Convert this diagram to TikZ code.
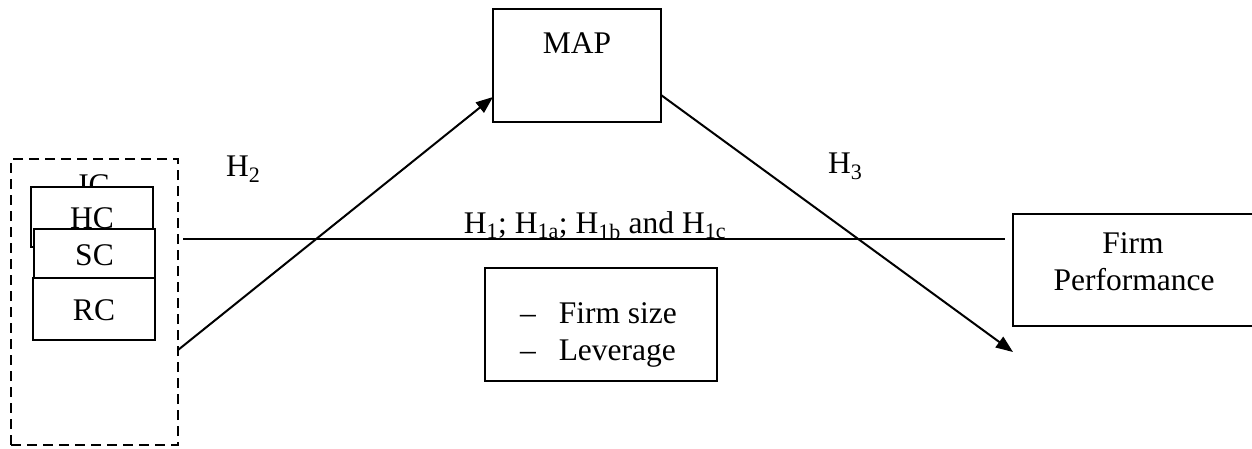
\documentclass[tikz,border=0pt]{standalone}
\usepackage{fontspec}
\setmainfont{Liberation Serif}
\usetikzlibrary{arrows.meta,calc}
\begin{document}
\begin{tikzpicture}[x=1pt,y=-1pt,line width=2pt,
  box/.style={draw,fill=white,inner sep=0pt,outer sep=0pt},
  txt/.style={font=\fontsize{31.5}{37}\selectfont,inner sep=0pt},
  arr/.style={-{Triangle[length=17pt,width=13pt]}},
  grpbox/.style={draw,dash pattern=on 10pt off 6pt,inner sep=0pt,outer sep=0pt}]
\clip (0,0) rectangle (1252,448);
\fill[white] (0,0) rectangle (1252,448);

% intellectual capital group
\node[grpbox,minimum width=167pt,minimum height=286pt] (grp) at (94.5,302) {};
\node[txt,anchor=base] (ic) at (94,195) {IC};
\node[box,minimum width=122pt,minimum height=60pt] (hc) at (92,217) {};
\node[txt,anchor=base] at (92,228) {HC};
\node[box,minimum width=121pt,minimum height=49pt] (sc) at (94.5,253.5) {};
\node[txt,anchor=base] at (94.5,265) {SC};
\node[box,minimum width=122pt,minimum height=62pt] (rc) at (94,309) {};
\node[txt,anchor=base] at (94,320) {RC};

% mediator
\node[box,minimum width=168pt,minimum height=113pt] (map) at (577,65.5) {};
\node[txt,anchor=base] at (577,53) {MAP};

% outcome
\node[box,minimum width=260pt,minimum height=112pt] (fp) at (1143,270) {};
\node[txt,anchor=base] at (1133,253) {Firm};
\node[txt,anchor=base] at (1134,290) {Performance};

% controls
\node[box,minimum width=232pt,minimum height=113pt] (ctrl) at (601,324.5) {};
\node[txt,anchor=base west] at (519,323) {--\hspace{23pt}Firm size};
\node[txt,anchor=base west] at (519,360) {--\hspace{23pt}Leverage};

% paths
\draw ($(grp.east)+(5,-63)$) -- ($(fp.west)+(-8,-31)$);
\draw[arr] ($(grp.east)+(0,48)$) -- ($(map.west)+(0,31.5)$);
\draw[arr] ($(map.east)+(0,29.5)$) -- ($(fp.south west)+(0,26)$);

% hypothesis labels
\node[txt,anchor=base west] at (225,176) {H\textsubscript{2}};
\node[txt,anchor=base west] at (827,173) {H\textsubscript{3}};
\node[txt,anchor=base] at (595,233) {H\textsubscript{1}; H\textsubscript{1a}; H\textsubscript{1b} and H\textsubscript{1c}};
\end{tikzpicture}
\end{document}
